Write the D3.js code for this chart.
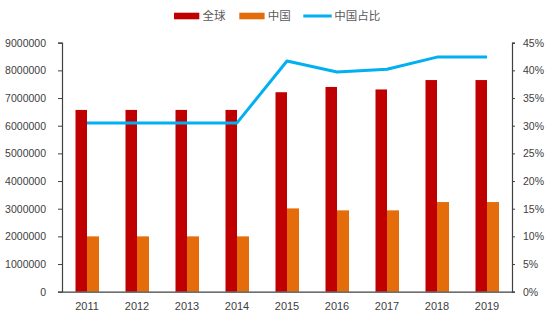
<!DOCTYPE html>
<html>
<head>
<meta charset="utf-8">
<script src="https://cdn.jsdelivr.net/npm/d3@7"></script>
<style>
  html, body { margin: 0; padding: 0; background: #fff; }
  svg { display: block; font-family: "Liberation Sans", "Noto Sans CJK SC", sans-serif; }
</style>
</head>
<body>
<svg id="chart" width="554" height="322"></svg>
<script>
// Years on the category axis
const years = ["2011", "2012", "2013", "2014", "2015", "2016", "2017", "2018", "2019"];
// 全球 output
const globalVals = [6570000, 6570000, 6570000, 6570000, 7210000, 7400000, 7310000, 7650000, 7650000];
// 中国 output
const chinaVals = [2000000, 2000000, 2000000, 2000000, 3010000, 2940000, 2940000, 3240000, 3240000];
// 中国占比 (share, %)
const shareVals = [30.5, 30.5, 30.5, 30.5, 41.7, 39.7, 40.2, 42.4, 42.4];
// Axis ticks
const leftTicks = [0, 1000000, 2000000, 3000000, 4000000, 5000000, 6000000, 7000000, 8000000, 9000000];
const rightTicks = [0, 5, 10, 15, 20, 25, 30, 35, 40, 45];
const seriesNames = ["全球", "中国", "中国占比"];

const colors = { global: "#C00000", china: "#E46C0A", share: "#00B0F0" };
const axisColor = "#404040";
const textColor = "#404040";

const svg = d3.select("#chart");
const m = { left: 62, right: 512, top: 42.7, bottom: 291.7 };

const x = d3.scaleBand().domain(years).range([m.left, m.right]).paddingInner(0).paddingOuter(0);
const yL = d3.scaleLinear().domain([0, 9000000]).range([m.bottom, m.top]);
const yR = d3.scaleLinear().domain([0, 45]).range([m.bottom, m.top]);

const barW = 11.5;

// Bars: 全球 to the left of the band centre, 中国 to the right
svg.append("g").selectAll("rect").data(years).join("rect")
  .attr("x", (d) => x(d) + x.bandwidth() / 2 - barW)
  .attr("width", barW)
  .attr("y", (d, i) => yL(globalVals[i]))
  .attr("height", (d, i) => m.bottom - yL(globalVals[i]))
  .attr("fill", colors.global);

svg.append("g").selectAll("rect").data(years).join("rect")
  .attr("x", (d) => x(d) + x.bandwidth() / 2)
  .attr("width", barW + 0.5)
  .attr("y", (d, i) => yL(chinaVals[i]))
  .attr("height", (d, i) => m.bottom - yL(chinaVals[i]))
  .attr("fill", colors.china);

// Share line on the right axis
const line = d3.line()
  .x((d, i) => x(years[i]) + x.bandwidth() / 2)
  .y((d) => yR(d));
svg.append("path")
  .datum(shareVals)
  .attr("d", line)
  .attr("fill", "none")
  .attr("stroke", colors.share)
  .attr("stroke-width", 3)
  .attr("stroke-linejoin", "round");

// Axes
function styleAxis(g, size) {
  g.selectAll(".domain").attr("stroke", axisColor).attr("stroke-width", 1.2);
  g.selectAll(".tick line").attr("stroke", axisColor).attr("stroke-width", 1);
  g.selectAll(".tick text").attr("fill", textColor).attr("font-size", size);
}

svg.append("g")
  .attr("transform", `translate(${m.left},0)`)
  .call(d3.axisLeft(yL).tickValues(leftTicks).tickFormat(d3.format("d")).tickSize(4).tickSizeOuter(4).tickPadding(12))
  .call(styleAxis, "10.5px");

svg.append("g")
  .attr("transform", `translate(${m.right},0)`)
  .call(d3.axisRight(yR).tickValues(rightTicks).tickFormat((d) => d + "%").tickSize(3).tickSizeOuter(3).tickPadding(8))
  .call(styleAxis, "10.5px");

svg.append("g")
  .attr("transform", `translate(0,${m.bottom})`)
  .call(d3.axisBottom(x).tickSize(0).tickSizeOuter(0).tickPadding(11))
  .call(styleAxis, "11px");

// Legend
const legend = svg.append("g").attr("font-size", "11.5px").attr("fill", "#595959");
const lg = [
  { name: seriesNames[0], x: 174, type: "rect", color: colors.global },
  { name: seriesNames[1], x: 239.3, type: "rect", color: colors.china },
  { name: seriesNames[2], x: 303.3, type: "line", color: colors.share }
];
lg.forEach((d) => {
  if (d.type === "rect") {
    legend.append("rect").attr("x", d.x).attr("y", 12.7).attr("width", 25.3).attr("height", 6.6).attr("fill", d.color);
  } else {
    legend.append("line").attr("x1", d.x).attr("x2", d.x + 28.4).attr("y1", 16).attr("y2", 16)
      .attr("stroke", d.color).attr("stroke-width", 3);
  }
  legend.append("text").attr("x", d.x + (d.type === "rect" ? 28.5 : 31)).attr("y", 20.3)
    .attr("font-family", "'Noto Sans CJK SC', sans-serif").text(d.name);
});
</script>
</body>
</html>
